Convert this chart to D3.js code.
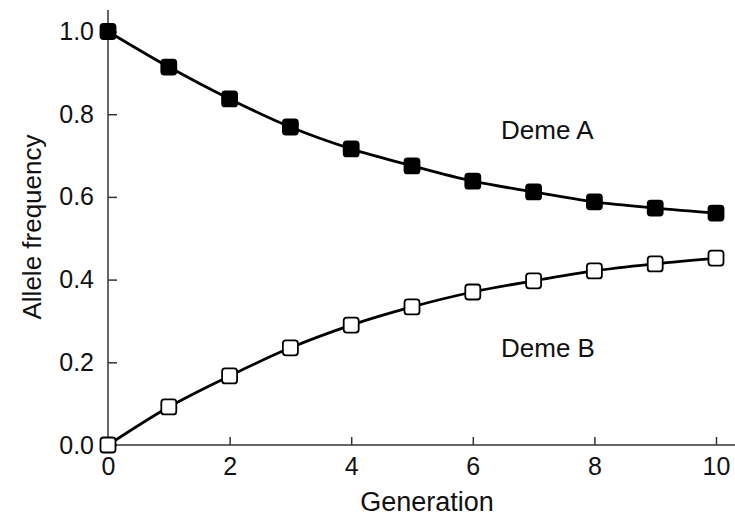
<!DOCTYPE html>
<meta charset="utf-8">
<style>
body { margin: 0; background: #fff; }
text { font-family: "Liberation Sans", Arial, sans-serif; fill: #111; }
.axis text { font-size: 25px; }
.axis line { stroke: #333; stroke-width: 1.5px; }
.label { font-size: 26px; }
</style>
<head>
<script src="https://d3js.org/d3.v7.min.js"></script>
</head>
<body>
<svg id="chart" width="735" height="518"></svg>
<script>
// generations and allele frequencies
var generation = [0, 1, 2, 3, 4, 5, 6, 7, 8, 9, 10];
var demeA = [1.0, 0.914, 0.837, 0.769, 0.716, 0.675, 0.638, 0.612, 0.588, 0.573, 0.561];
var demeB = [0.0, 0.092, 0.167, 0.235, 0.290, 0.334, 0.370, 0.397, 0.421, 0.438, 0.452];
var xTicks = [0, 2, 4, 6, 8, 10];
var yTicks = [0, 0.2, 0.4, 0.6, 0.8, 1.0];

var svg = d3.select("#chart");

var x = d3.scaleLinear().domain([0, 10]).range([108, 716]),
    y = d3.scaleLinear().domain([0, 1]).range([445, 31.5]);

// axes
svg.append("g")
    .attr("class", "axis")
    .attr("transform", "translate(0," + y(0) + ")")
    .call(d3.axisBottom(x).tickValues(xTicks).tickSizeInner(-8).tickSizeOuter(0).tickPadding(12))
    .call(function(g) { g.select(".domain").remove(); });

svg.append("g")
    .attr("class", "axis")
    .attr("transform", "translate(" + x(0) + ",0)")
    .call(d3.axisLeft(y).tickValues(yTicks).tickFormat(d3.format(".1f")).tickSizeInner(-9).tickSizeOuter(0).tickPadding(14))
    .call(function(g) { g.select(".domain").remove(); });

svg.append("line")
    .attr("x1", x(0)).attr("x2", 735)
    .attr("y1", y(0)).attr("y2", y(0))
    .attr("stroke", "#333").attr("stroke-width", 1.5);

svg.append("line")
    .attr("x1", x(0)).attr("x2", x(0))
    .attr("y1", 10).attr("y2", y(0))
    .attr("stroke", "#333").attr("stroke-width", 1.5);

// axis titles
svg.append("text")
    .attr("class", "label")
    .attr("x", 427)
    .attr("y", 511)
    .attr("text-anchor", "middle")
    .style("font-size", "27px")
    .text("Generation");

svg.append("text")
    .attr("class", "label")
    .attr("transform", "translate(41,227) rotate(-90)")
    .attr("text-anchor", "middle")
    .text("Allele frequency");

var line = d3.line()
    .x(function(d, i) { return x(generation[i]); })
    .y(function(d) { return y(d); })
    .curve(d3.curveMonotoneX);

var series = [
  {name: "Deme A", values: demeA, fill: "#000"},
  {name: "Deme B", values: demeB, fill: "#fff"}
];

series.forEach(function(s) {
  svg.append("path")
      .datum(s.values)
      .attr("fill", "none")
      .attr("stroke", "#000")
      .attr("stroke-width", 2.8)
      .attr("d", line);

  svg.selectAll(null)
      .data(s.values)
    .enter().append("rect")
      .attr("x", function(d, i) { return x(generation[i]) - 7.5; })
      .attr("y", function(d) { return y(d) - 7.5; })
      .attr("width", 15)
      .attr("height", 15)
      .attr("rx", 3)
      .attr("fill", s.fill)
      .attr("stroke", "#000")
      .attr("stroke-width", 1.8);
});

// series labels
svg.append("text")
    .attr("class", "label")
    .attr("x", 501)
    .attr("y", 139)
    .text("Deme A");

svg.append("text")
    .attr("class", "label")
    .attr("x", 501)
    .attr("y", 357)
    .text("Deme B");
</script>
</body>
